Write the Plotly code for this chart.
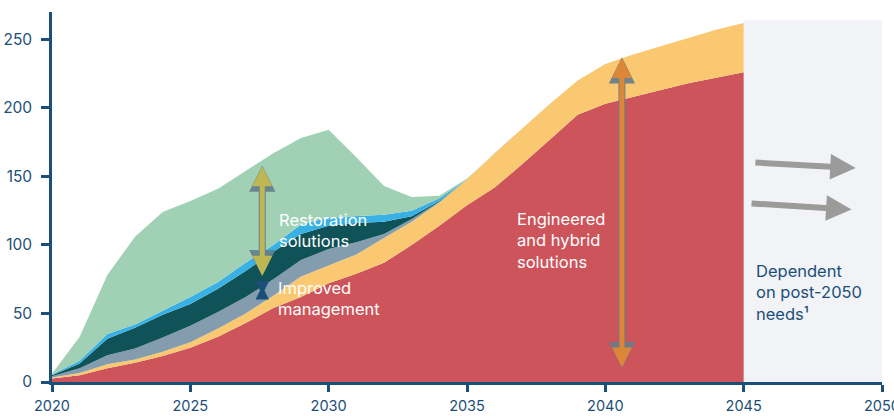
import plotly.graph_objects as go

years = list(range(2020, 2046))

# layer thickness per year (stacked bottom -> top)
engineered = [2.5, 5, 10, 14, 19, 25, 33, 43, 54, 62, 72, 79, 87, 100, 114, 129,
              142, 159, 177, 195, 203, 208, 213, 218, 222, 226]
hybrid = [0.8, 1.5, 3, 2.5, 3, 4, 6, 7, 9, 15, 13, 14, 18, 17, 17, 19,
          25, 26, 26, 25, 29, 31, 32, 33, 35, 36]
improved_a = [0.9, 3.5, 6.5, 8, 10.5, 12, 12, 12, 12, 12, 12, 9, 3, 2, 0.5, 0,
              0, 0, 0, 0, 0, 0, 0, 0, 0, 0]
improved_b = [0.8, 3.5, 12, 15, 16.5, 16, 17, 19, 20, 19, 17, 14, 9, 2, 0.5, 0,
              0, 0, 0, 0, 0, 0, 0, 0, 0, 0]
improved_c = [0.5, 2, 3.5, 2.5, 3, 5, 5, 6, 5, 7, 6, 5, 5, 4, 2, 0,
              0, 0, 0, 0, 0, 0, 0, 0, 0, 0]
restoration = [0.5, 17.5, 43, 64, 72, 70, 68, 67, 67, 63, 64, 43, 21, 10, 2, 0.5,
               0, 0, 0, 0, 0, 0, 0, 0, 0, 0]

x_ticks = [2020, 2025, 2030, 2035, 2040, 2045, 2050]
y_ticks = [0, 50, 100, 150, 200, 250]

layers = [
    ("Engineered", engineered, "#CC545A"),
    ("Hybrid", hybrid, "#FBC872"),
    ("Improved A", improved_a, "#849DAE"),
    ("Improved B", improved_b, "#0F5257"),
    ("Improved C", improved_c, "#3AB1E4"),
    ("Restoration", restoration, "#A0D1B5"),
]

NAVY = "#1B4F7A"

fig = go.Figure()
for name, vals, col in layers:
    fig.add_trace(go.Scatter(
        x=years, y=vals, name=name, stackgroup="one", mode="lines",
        line=dict(width=0, color=col), fillcolor=col, hoverinfo="skip"))

# post-2045 shaded block
fig.add_shape(type="rect", x0=2045, x1=2050, y0=0, y1=264, layer="below",
              fillcolor="#F1F3F7", line=dict(width=0))


def arrow(x0, y0, x1, y1, col, w, size, both=True):
    fig.add_annotation(x=x1, y=y1, ax=x0, ay=y0, xref="x", yref="y", axref="x", ayref="y",
                       text="", showarrow=True, arrowside="end+start" if both else "end",
                       arrowhead=2, arrowsize=size, arrowwidth=w, arrowcolor=col)


# outlined double arrows
arrow(2027.6, 76, 2027.6, 158, "rgba(100,125,140,0.9)", 7, 0.75)
arrow(2027.6, 76.5, 2027.6, 157.5, "rgba(196,186,80,0.95)", 5, 0.8)
arrow(2027.6, 62.5, 2027.6, 70, NAVY, 3, 0.9)
arrow(2040.6, 9, 2040.6, 237, "rgba(100,125,140,0.9)", 7, 0.75)
arrow(2040.6, 9.5, 2040.6, 236.5, "rgba(226,136,52,0.95)", 5, 0.8)

# grey arrows into post-2050
arrow(2045.37, 160.2, 2049.05, 156.1, "#9B9B99", 6, 0.85, both=False)
arrow(2045.23, 130.4, 2048.9, 125.8, "#9B9B99", 6, 0.85, both=False)

labels = [
    (2028.15, 110.5, "Restoration<br>solutions", "white"),
    (2028.1, 61, "Improved<br>management", "white"),
    (2036.73, 103, "Engineered<br>and hybrid<br>solutions", "white"),
    (2045.39, 65, "Dependent<br>on post-2050<br>needs¹", NAVY),
]
for x, y, t, c in labels:
    fig.add_annotation(x=x, y=y, text=t, showarrow=False, xanchor="left", yanchor="middle",
                       align="left", font=dict(size=16.5, color=c, family="Inter"))

axis = dict(showline=True, linecolor=NAVY, linewidth=2.5, ticks="outside",
            tickcolor=NAVY, tickwidth=2.5, showgrid=False, zeroline=False, automargin=False)

fig.update_layout(
    width=894, height=416, margin=dict(l=52, r=12, t=12, b=34),
    plot_bgcolor="white", paper_bgcolor="white", showlegend=False,
    xaxis=dict(range=[2020, 2050], tickvals=x_ticks, ticklen=7, ticklabelstandoff=2,
               ticklabeloverflow="allow",
               tickfont=dict(size=14.5, color=NAVY, family="Inter"), **axis),
    yaxis=dict(range=[0, 270], tickvals=y_ticks, ticklen=8, ticklabelstandoff=6,
               tickfont=dict(size=15.5, color=NAVY, family="Inter"), **axis),
)

# drop the page's default 8px body margin so the chart sits flush
fig.write_html("out.html", config={"displayModeBar": False},
               post_script="document.body.style.margin='0';")
